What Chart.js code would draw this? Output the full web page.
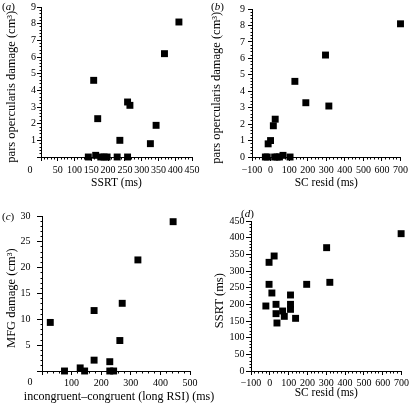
<!DOCTYPE html>
<html><head><meta charset="utf-8">
<script src="https://cdn.jsdelivr.net/npm/chart.js@4.4.1/dist/chart.umd.min.js"></script>
<style>
html,body{margin:0;padding:0;background:#fff;}
#wrap{position:relative;width:411px;height:404px;overflow:hidden;background:#fff;}
canvas{position:absolute;}
.lab{position:absolute;font-family:"Liberation Serif","Times New Roman",serif;font-size:11px;line-height:11px;color:#000;white-space:nowrap;}
.lab i{font-style:italic;}
</style></head><body>
<div id="wrap">
<canvas id="ca" width="205" height="200" style="left:0;top:0"></canvas>
<canvas id="cb" width="206" height="200" style="left:205px;top:0"></canvas>
<canvas id="cc" width="235" height="204" style="left:0;top:200px"></canvas>
<canvas id="cd" width="206" height="204" style="left:205px;top:200px"></canvas>
<div class="lab" style="left:2px;top:1px">(<i>a</i>)</div>
<div class="lab" style="left:211px;top:1px">(<i>b</i>)</div>
<div class="lab" style="left:2px;top:211px">(<i>c</i>)</div>
<div class="lab" style="left:241px;top:208px">(<i>d</i>)</div>
</div>
<script>
// ---- data ----
// (a) SSRT (ms) vs pars opercularis damage (cm3)
const ssrtA   = [141, 163, 157, 169, 178, 188, 197, 227, 235, 258, 265, 258, 326, 343, 368, 411];
const damageA = [0, 0.1, 4.6, 2.3, 0, 0, 0, 0, 1.0, 3.3, 3.1, 0, 0.8, 1.9, 6.2, 8.1];
// (b) SC resid (ms) vs pars opercularis damage (cm3)
const scResidB = [-28, -18, -13, 0, 15, 25, 22, 35, 48, 67, 105, 131, 190, 296, 314, 700];
const damageB  = [0, 0, 0.8, 1.0, 1.9, 2.3, 0, 0, 0, 0.1, 0, 4.6, 3.3, 6.2, 3.1, 8.1];
// (c) incongruent-congruent (long RSI) (ms) vs MFG damage (cm3)
const rsiDiffC   = [28, 76, 129, 144, 176, 176, 229, 229, 242, 263, 271, 324, 443];
const mfgDamageC = [9.4, 0, 0.6, 0, 2.1, 11.7, 1.8, 0, 0, 5.9, 13.1, 21.5, 28.9];
// (d) SC resid (ms) vs SSRT (ms)
const scResidD = [-21, -4, 23, -4, 11, 33, 33, 38, 68, 77, 110, 110, 110, 137, 196, 302, 319, 698];
const ssrtD    = [195, 326, 345, 260, 234, 200, 172, 144, 180, 164, 228, 200, 185, 158, 260, 370, 266, 412];

// axis tick settings
const ticksA = {xMin: 0, xMax: 450, xStep: 50, yMin: 0, yMax: 9, yStep: 1};
const ticksB = {xMin: -100, xMax: 700, xStep: 100, yMin: 0, yMax: 9, yStep: 1};
const ticksC = {xMin: 0, xMax: 500, xStep: 100, yMin: 0, yMax: 30, yStep: 5};
const ticksD = {xMin: -100, xMax: 700, xStep: 100, yMin: 0, yMax: 450, yStep: 50};

const SERIF = '"Liberation Serif", "Times New Roman", serif';
Chart.defaults.font.family = SERIF;
Chart.defaults.color = '#000';

function fmt(v) { return v < 0 ? '\u2212' + Math.abs(v) : String(v); }
function align(p) { return Math.round(p - 0.5) + 0.5; }

const minorTicksPlugin = {
  id: 'minorTicks',
  beforeDatasetsDraw(chart, args, opts) {
    if (!opts || !opts.xStep) return;
    const ctx = chart.ctx, ca = chart.chartArea;
    const xs = chart.scales.x, ys = chart.scales.y;
    ctx.save();
    ctx.strokeStyle = '#000'; ctx.lineWidth = 1;
    ctx.beginPath();
    const yb = align(ca.bottom);
    const n1 = Math.round((xs.max - xs.min) / opts.xStep);
    for (let i = 0; i <= n1; i++) {
      const px = align(xs.getPixelForValue(xs.min + i * opts.xStep));
      ctx.moveTo(px, yb); ctx.lineTo(px, yb + opts.len);
    }
    const xl = align(ca.left);
    const n2 = Math.round((ys.max - ys.min) / opts.yStep);
    for (let i = 0; i <= n2; i++) {
      const py = align(ys.getPixelForValue(ys.min + i * opts.yStep));
      ctx.moveTo(xl, py); ctx.lineTo(xl - opts.len, py);
    }
    ctx.stroke();
    ctx.restore();
  }
};

const freeTextPlugin = {
  id: 'freeText',
  afterDraw(chart, args, opts) {
    if (!opts || !opts.items) return;
    const ctx = chart.ctx, ca = chart.chartArea;
    ctx.save();
    ctx.fillStyle = '#000';
    ctx.textBaseline = 'middle';
    ctx.textAlign = 'center';
    opts.items.forEach(it => {
      ctx.font = it.size + 'px ' + SERIF;
      const bx = it.anchor === 'center' ? (ca.left + ca.right) / 2 : ca.left;
      ctx.fillText(it.text, bx + it.dx, ca.bottom + it.dy);
    });
    ctx.restore();
  }
};

// trailing spaces nudge the rotated, centred y titles a few pixels downward
const Y_NUDGE = '   ';

function makeChart(id, xs, ys, t, o) {
  const data = xs.map((x, i) => ({x: x, y: ys[i]}));
  return new Chart(document.getElementById(id), {
    type: 'scatter',
    data: { datasets: [{
      data: data, pointStyle: 'rect', pointRadius: 4.9, pointHoverRadius: 4.9,
      backgroundColor: '#000', borderColor: '#000', borderWidth: 0, clip: false
    }]},
    options: {
      responsive: false, animation: false, events: [],
      layout: { padding: o.pad },
      plugins: {
        legend: {display: false}, tooltip: {enabled: false},
        minorTicks: o.minor, freeText: {items: o.free || []}
      },
      scales: {
        x: {
          type: 'linear', min: t.xMin, max: t.xMax,
          grid: {drawOnChartArea: false, drawTicks: true, tickLength: o.xTick, color: '#000', lineWidth: 1},
          border: {display: true, color: '#000', width: 1},
          ticks: {stepSize: t.xStep, autoSkip: false, maxRotation: 0, minRotation: 0, padding: o.xPad,
                  color: '#000', font: {size: 10, lineHeight: 1.2},
                  callback: v => (o.hideX0 && v === 0) ? '' : fmt(v)},
          title: {display: !!o.xTitle, text: o.xTitle || '', color: '#000',
                  font: {size: o.xTitleSize || 11.5, lineHeight: 1.2}, padding: {top: 0, bottom: o.xTitlePad}},
          afterFit(s) { s.height = o.xH; }
        },
        y: {
          type: 'linear', min: t.yMin, max: t.yMax,
          grid: {drawOnChartArea: false, drawTicks: true, tickLength: o.yTick, color: '#000', lineWidth: 1},
          border: {display: true, color: '#000', width: 1},
          ticks: {stepSize: t.yStep, autoSkip: false, padding: o.yPad,
                  color: '#000', font: {size: 10, lineHeight: 1.2},
                  callback: v => (o.hideY0 && v === 0) ? '' : fmt(v)},
          title: {display: true, text: o.yTitle + Y_NUDGE, color: '#000',
                  font: {size: 12.5, lineHeight: 1.2}, padding: {top: o.yTitlePad, bottom: 0}},
          afterFit(s) { s.width = o.yW; }
        }
      }
    },
    plugins: [minorTicksPlugin, freeTextPlugin]
  });
}

makeChart('ca', ssrtA, damageA, ticksA, {
  pad: {top: 7, right: 13, left: 0, bottom: 0}, yW: 41, xH: 43,
  xTick: 4, yTick: 4, xPad: 3, yPad: 1, hideX0: true, hideY0: true,
  xTitle: 'SSRT (ms)', xTitlePad: 9.8, yTitle: 'pars opercularis damage (cm\u00B3)', yTitlePad: 4.5,
  minor: {xStep: 10, yStep: 0.2, len: 2},
  free: [{text: '0', anchor: 'left', dx: -11, dy: 13.7, size: 10}]
});
makeChart('cb', scResidB, damageB, ticksB, {
  pad: {top: 7, right: 9, left: 0, bottom: 0}, yW: 47, xH: 43,
  xTick: 4, yTick: 4, xPad: 3, yPad: 3, hideX0: false, hideY0: false,
  xTitle: 'SC resid (ms)', xTitlePad: 9.8, yTitle: 'pars opercularis damage (cm\u00B3)', yTitlePad: 4.5,
  minor: {xStep: 20, yStep: 0.2, len: 2}
});
makeChart('cc', rsiDiffC, mfgDamageC, ticksC, {
  pad: {top: 16, right: 45, left: 0, bottom: 0}, yW: 42, xH: 33,
  xTick: 4, yTick: 5, xPad: 2, yPad: 6.5, hideX0: true, hideY0: true,
  xTitle: '', xTitlePad: 0, yTitle: 'MFG damage (cm\u00B3)', yTitlePad: 4.5,
  minor: {xStep: 20, yStep: 1, len: 2},
  free: [{text: '0', anchor: 'left', dx: -12, dy: 11.7, size: 10},
         {text: 'incongruent\u2013congruent (long RSI) (ms)', anchor: 'center', dx: 3, dy: 25.7, size: 12}]
});
makeChart('cd', scResidD, ssrtD, ticksD, {
  pad: {top: 21, right: 8, left: 0, bottom: 0}, yW: 46, xH: 33,
  xTick: 4, yTick: 5, xPad: 2, yPad: 1.5, hideX0: false, hideY0: false,
  xTitle: 'SC resid (ms)', xTitlePad: 4.1, yTitle: 'SSRT (ms)', yTitlePad: 7.5,
  minor: {xStep: 20, yStep: 10, len: 2}
});
</script>
</body></html>
